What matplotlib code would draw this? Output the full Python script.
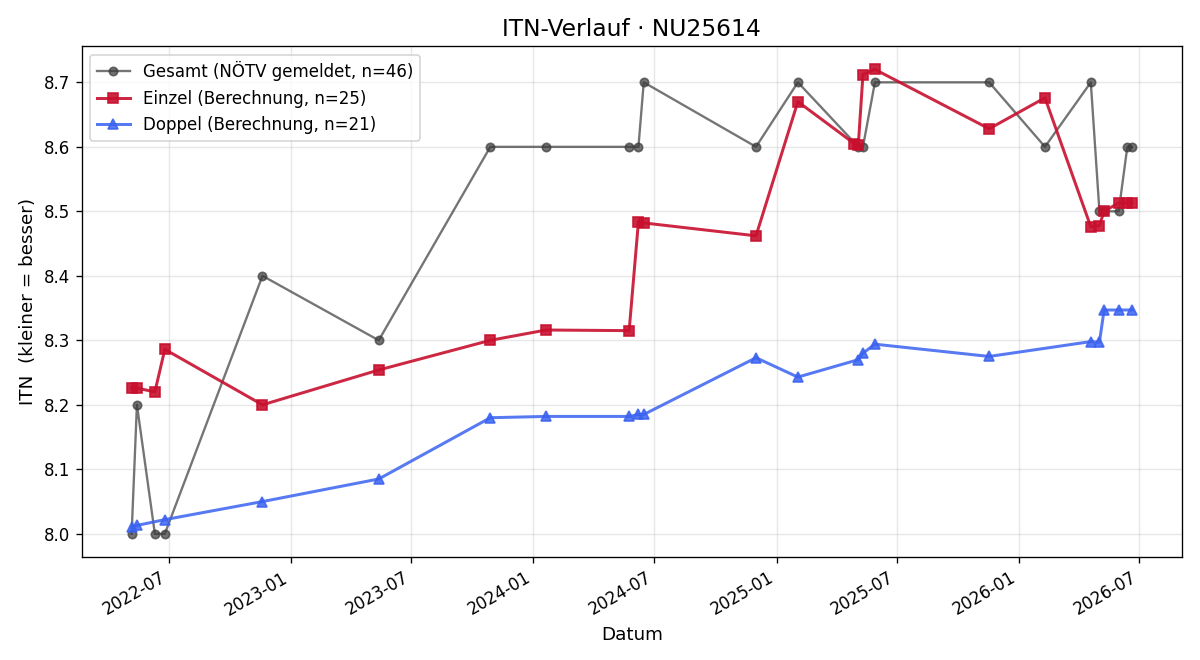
import matplotlib
matplotlib.use("Agg")
import matplotlib.pyplot as plt
import matplotlib.dates as mdates
import numpy as np

# Gesamt (gemeldet)
gesamt_dates = ["2022-05-06", "2022-05-14", "2022-06-10", "2022-06-25", "2022-11-19",
                "2023-05-13", "2023-10-28", "2024-01-20", "2024-05-24", "2024-06-07",
                "2024-06-15", "2024-12-01", "2025-02-02", "2025-05-04", "2025-05-11",
                "2025-05-29", "2025-11-17", "2026-02-09", "2026-04-19", "2026-05-02",
                "2026-05-09", "2026-05-31", "2026-06-13", "2026-06-20"]
gesamt_itn = [8.0, 8.2, 8.0, 8.0, 8.4,
              8.3, 8.6, 8.6, 8.6, 8.6,
              8.7, 8.6, 8.7, 8.6, 8.6,
              8.7, 8.7, 8.6, 8.7, 8.5,
              8.5, 8.5, 8.6, 8.6]

# Einzel (Berechnung)
einzel_dates = ["2022-05-06", "2022-05-14", "2022-06-10", "2022-06-25", "2022-11-19",
                "2023-05-13", "2023-10-28", "2024-01-20", "2024-05-24", "2024-06-07",
                "2024-06-15", "2024-12-01", "2025-02-02", "2025-04-28", "2025-05-04",
                "2025-05-11", "2025-05-29", "2025-11-17", "2026-02-09", "2026-04-19",
                "2026-05-02", "2026-05-09", "2026-05-31", "2026-06-13", "2026-06-20"]
einzel_itn = [8.226, 8.226, 8.220, 8.286, 8.200,
              8.254, 8.300, 8.316, 8.315, 8.484,
              8.482, 8.462, 8.670, 8.605, 8.603,
              8.712, 8.720, 8.628, 8.676, 8.476,
              8.478, 8.500, 8.513, 8.513, 8.513]

# Doppel (Berechnung)
doppel_dates = ["2022-05-06", "2022-05-14", "2022-06-25", "2022-11-19", "2023-05-13",
                "2023-10-28", "2024-01-20", "2024-05-24", "2024-06-07", "2024-06-15",
                "2024-12-01", "2025-02-02", "2025-05-04", "2025-05-11", "2025-05-29",
                "2025-11-17", "2026-04-19", "2026-05-02", "2026-05-09", "2026-05-31",
                "2026-06-20"]
doppel_itn = [8.010, 8.013, 8.022, 8.050, 8.085,
              8.180, 8.182, 8.182, 8.185, 8.185,
              8.273, 8.243, 8.270, 8.280, 8.294,
              8.275, 8.298, 8.297, 8.347, 8.347,
              8.347]

fig, ax = plt.subplots(figsize=(10, 5.5), dpi=120)

ax.plot(np.array(gesamt_dates, dtype="datetime64[D]"), gesamt_itn, marker="o", ms=5,
        color="#3a3a3a", alpha=0.7, lw=1.4, label="Gesamt (NÖTV gemeldet, n=46)")
ax.plot(np.array(einzel_dates, dtype="datetime64[D]"), einzel_itn, marker="s", ms=6,
        color="#c8102e", alpha=0.9, lw=1.8, label="Einzel (Berechnung, n=25)")
ax.plot(np.array(doppel_dates, dtype="datetime64[D]"), doppel_itn, marker="^", ms=6,
        color="#3a62f0", alpha=0.85, lw=1.8, label="Doppel (Berechnung, n=21)")

ax.set_title("ITN-Verlauf · NU25614", fontsize=14)
ax.set_xlabel("Datum", fontsize=11)
ax.set_ylabel("ITN  (kleiner = besser)", fontsize=11)
ax.grid(True, alpha=0.3)
ax.legend(loc="upper left", fontsize=10)
ax.xaxis.set_major_locator(mdates.MonthLocator(bymonth=[1, 7]))
ax.xaxis.set_major_formatter(mdates.DateFormatter("%Y-%m"))
fig.autofmt_xdate()
fig.subplots_adjust(left=0.068, right=0.985, top=0.930, bottom=0.156)
fig.savefig("out.png")
